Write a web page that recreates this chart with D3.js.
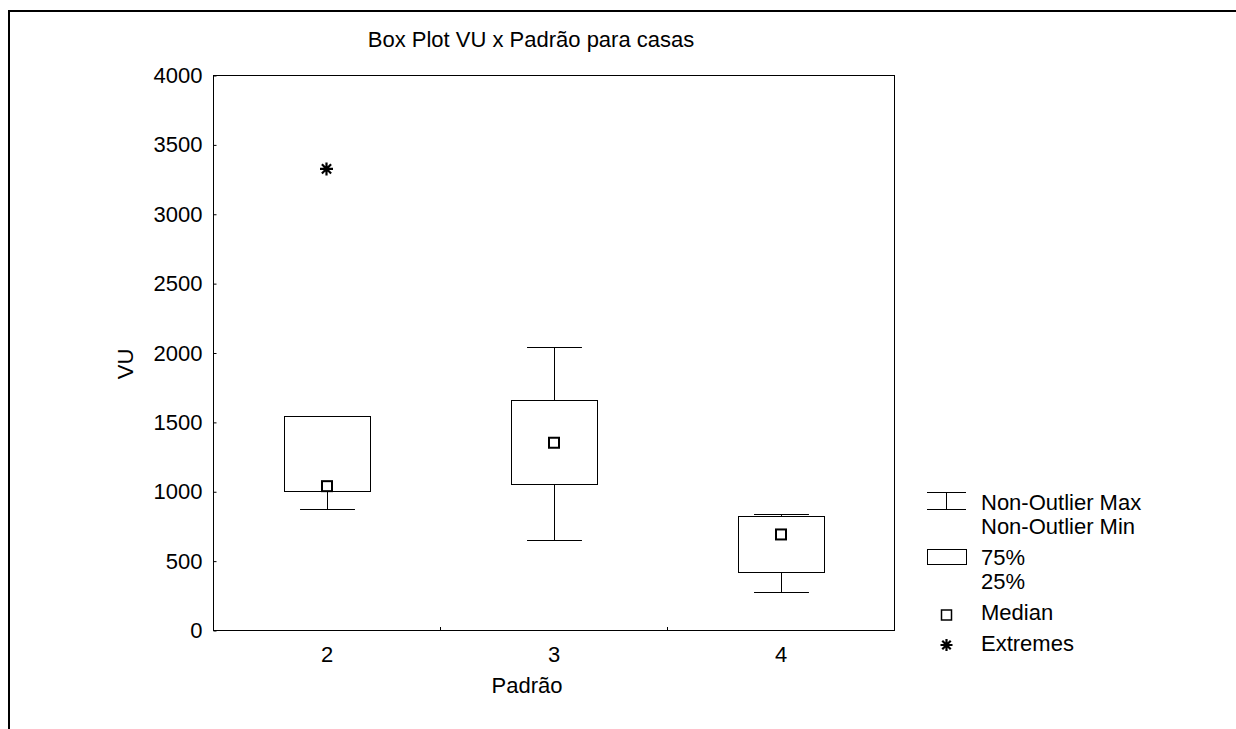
<!DOCTYPE html>
<html lang="pt">
<head>
  <meta charset="UTF-8">
  <title>Box Plot VU x Padrão para casas</title>
  <script src="https://d3js.org/d3.v7.min.js"></script>
  <style>
    body { margin: 0; background: #fff; }
    svg text { font-family: "Liberation Sans", Arial, sans-serif; fill: #000; }
  </style>
</head>
<body>
<script>
// Data
const categories = ["2", "3", "4"];
const whiskerMax = [1542, 2037, 836];
const q75 = [1542, 1655, 822];
const medians = [1033, 1346, 685];
const q25 = [1004, 1052, 420];
const whiskerMin = [872, 646, 272];
const extremeCats = ["2"];
const extremeVals = [3323];
const yTicks = [0, 500, 1000, 1500, 2000, 2500, 3000, 3500, 4000];

const width = 1236, height = 729;
const margin = { left: 213, right: 894, top: 75, bottom: 630 };
const fontSize = 22;

const svg = d3.select("body").append("svg")
  .attr("width", width)
  .attr("height", height);

// outer frame (only top and left edges are visible)
svg.append("path")
  .attr("d", `M9,${height} L9,11 L${width},11`)
  .attr("fill", "none")
  .attr("stroke", "#000")
  .attr("stroke-width", 2);

const x = d3.scaleBand()
  .domain(categories)
  .range([margin.left, margin.right])
  .padding(0);

const y = d3.scaleLinear()
  .domain([0, 4000])
  .range([margin.bottom, margin.top]);

const cx = c => x(c) + x.bandwidth() / 2;
const boxW = x.bandwidth() * 0.38;
const capW = x.bandwidth() * 0.242;

// plot frame
svg.append("rect")
  .attr("x", margin.left + 0.5)
  .attr("y", margin.top + 0.5)
  .attr("width", margin.right - margin.left)
  .attr("height", margin.bottom - margin.top)
  .attr("fill", "none")
  .attr("stroke", "#000")
  .attr("stroke-width", 1);

// y axis
const yAxis = svg.append("g")
  .attr("transform", `translate(${margin.left + 0.5},0.5)`)
  .call(d3.axisLeft(y).tickValues(yTicks).tickSize(-3).tickPadding(11).tickFormat(d3.format("d")));
yAxis.select(".domain").remove();
yAxis.selectAll("text").style("font-size", fontSize + "px").style("font-family", "Liberation Sans, Arial, sans-serif");
yAxis.selectAll("line").attr("stroke", "#000");

// x axis labels
const xAxis = svg.append("g")
  .attr("transform", `translate(0.5,${margin.bottom + 0.5})`)
  .call(d3.axisBottom(x).tickSize(0).tickPadding(16));
xAxis.select(".domain").remove();
xAxis.selectAll("text").style("font-size", fontSize + "px").style("font-family", "Liberation Sans, Arial, sans-serif");

// x ticks at band boundaries
svg.selectAll(".xb")
  .data(categories.slice(1))
  .enter().append("line")
  .attr("x1", d => Math.round(x(d)) + 0.5)
  .attr("x2", d => Math.round(x(d)) + 0.5)
  .attr("y1", margin.bottom + 0.5)
  .attr("y2", margin.bottom - 3)
  .attr("stroke", "#000");

const plot = svg.append("g").attr("stroke", "#000").attr("fill", "none");

categories.forEach((c, i) => {
  const g = plot.append("g");
  const xc = Math.round(cx(c)) + 0.5;
  // whiskers
  g.append("line").attr("x1", xc).attr("x2", xc).attr("y1", y(whiskerMax[i])).attr("y2", y(q75[i]));
  g.append("line").attr("x1", xc).attr("x2", xc).attr("y1", y(q25[i])).attr("y2", y(whiskerMin[i]));
  g.append("line").attr("x1", xc - capW / 2).attr("x2", xc + capW / 2)
    .attr("y1", Math.round(y(whiskerMax[i])) + 0.5).attr("y2", Math.round(y(whiskerMax[i])) + 0.5);
  g.append("line").attr("x1", xc - capW / 2).attr("x2", xc + capW / 2)
    .attr("y1", Math.round(y(whiskerMin[i])) + 0.5).attr("y2", Math.round(y(whiskerMin[i])) + 0.5);
  // box
  g.append("rect")
    .attr("x", Math.round(xc - boxW / 2) + 0.5)
    .attr("y", Math.round(y(q75[i])) + 0.5)
    .attr("width", Math.round(boxW))
    .attr("height", Math.round(y(q25[i]) - y(q75[i])))
    .attr("fill", "#fff");
  // median
  g.append("rect")
    .attr("x", xc - 5.5)
    .attr("y", y(medians[i]) - 5.5)
    .attr("width", 10)
    .attr("height", 10)
    .attr("fill", "#fff")
    .attr("stroke-width", 2);
});

// eight-armed star for extremes
function star(r) {
  return d3.range(4).map(k => {
    const a = k * Math.PI / 4;
    return `M${-r * Math.cos(a)},${-r * Math.sin(a)}L${r * Math.cos(a)},${r * Math.sin(a)}`;
  }).join("");
}

plot.selectAll(".extreme")
  .data(extremeVals)
  .enter().append("path")
  .attr("transform", (d, i) => `translate(${cx(extremeCats[i])},${y(d)})`)
  .attr("d", star(6.5))
  .attr("stroke-width", 2.2);

// title and axis labels
svg.append("text")
  .attr("x", 531)
  .attr("y", 46.5)
  .attr("text-anchor", "middle")
  .style("font-size", fontSize + "px")
  .text("Box Plot VU x Padrão para casas");

svg.append("text")
  .attr("x", 527)
  .attr("y", 693)
  .attr("text-anchor", "middle")
  .style("font-size", fontSize + "px")
  .text("Padrão");

svg.append("text")
  .attr("transform", "translate(133,364) rotate(-90)")
  .attr("text-anchor", "middle")
  .style("font-size", fontSize + "px")
  .text("VU");

// legend
const legX = 927, legW = 39, legTextX = 981;
const leg = svg.append("g");
leg.append("line").attr("x1", legX).attr("x2", legX + legW).attr("y1", 492.5).attr("y2", 492.5).attr("stroke", "#000");
leg.append("line").attr("x1", legX).attr("x2", legX + legW).attr("y1", 509.5).attr("y2", 509.5).attr("stroke", "#000");
leg.append("line").attr("x1", 946.5).attr("x2", 946.5).attr("y1", 492.5).attr("y2", 509.5).attr("stroke", "#000");
leg.append("rect").attr("x", legX + 0.5).attr("y", 549.5).attr("width", legW).attr("height", 15)
  .attr("fill", "#fff").attr("stroke", "#000");
leg.append("rect").attr("x", 941.5).attr("y", 610).attr("width", 10).attr("height", 10)
  .attr("fill", "#fff").attr("stroke", "#000").attr("stroke-width", 1.5);
leg.append("path").attr("transform", "translate(946.5,645)").attr("d", star(6))
  .attr("stroke", "#000").attr("stroke-width", 2.2);

const legendLabels = ["Non-Outlier Max", "Non-Outlier Min", "75%", "25%", "Median", "Extremes"];
const legendBaselines = [510, 534, 565, 588.5, 620, 651];
leg.selectAll(".lt")
  .data(legendLabels)
  .enter().append("text")
  .attr("x", legTextX)
  .attr("y", (d, i) => legendBaselines[i])
  .style("font-size", fontSize + "px")
  .text(d => d);
</script>
</body>
</html>
